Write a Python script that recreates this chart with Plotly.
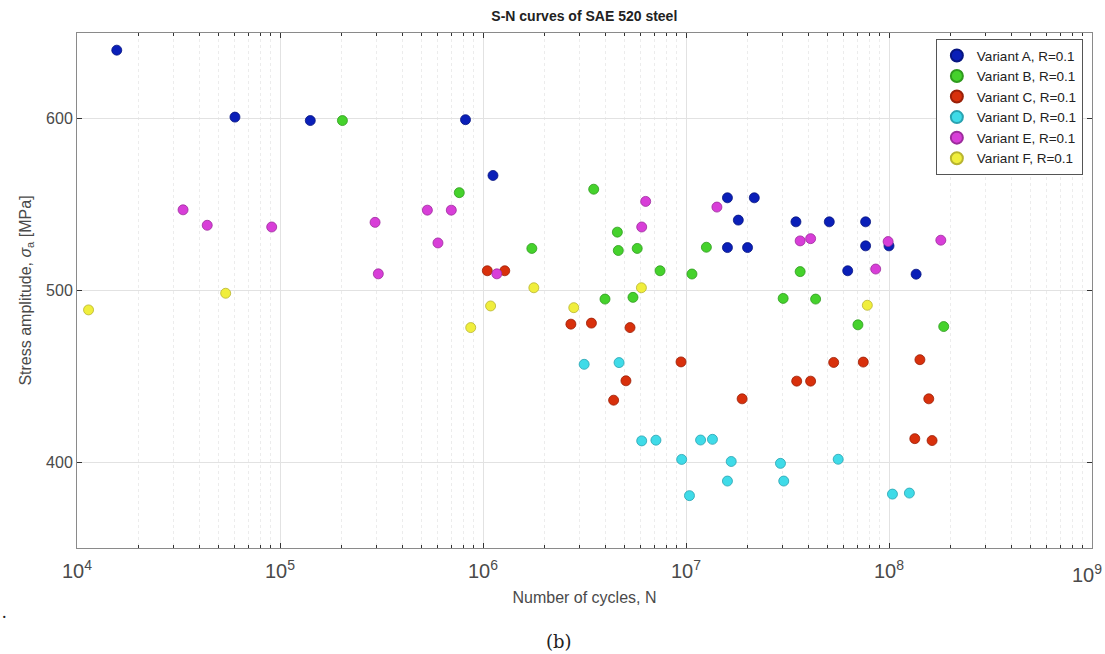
import plotly.graph_objects as go

series_names = ["Variant A, R=0.1", "Variant B, R=0.1", "Variant C, R=0.1",
                "Variant D, R=0.1", "Variant E, R=0.1", "Variant F, R=0.1"]
colors = ["#0a1fb8", "#45d22c", "#d8300c", "#3fdbe8", "#d83ed8", "#f0ee3c"]
edges = ["#071580", "#2f9a1e", "#9a2008", "#2aa2b0", "#9c2c9c", "#b8b430"]

x_tick_vals = [1e4, 1e5, 1e6, 1e7, 1e8, 1e9]
x_tick_text = ["10<sup>4</sup>", "10<sup>5</sup>", "10<sup>6</sup>",
               "10<sup>7</sup>", "10<sup>8</sup>", "10<sup>9</sup>"]
y_tick_vals = [400, 500, 600]

a_n = [1.57e4, 6.0e4, 1.41e5, 8.2e5, 1.12e6, 1.60e7, 2.17e7, 1.81e7, 1.60e7, 2.01e7,
       3.48e7, 5.08e7, 7.67e7, 7.67e7, 1.0e8, 6.26e7, 1.36e8]
a_s = [640, 601, 599, 599.5, 567, 554, 554, 541, 525, 525,
       540, 540, 540, 526, 526, 511.5, 509.5]

b_n = [2.03e5, 7.64e5, 1.74e6, 3.51e6, 4.59e6, 4.64e6, 5.75e6, 7.45e6, 1.07e7, 1.26e7,
       3.99e6, 5.48e6, 3.01e7, 3.65e7, 4.35e7, 7.03e7, 1.86e8]
b_s = [599, 557, 524.5, 559, 534, 523.3, 524.5, 511.5, 509.6, 525.2,
       495, 496, 495.4, 511, 495, 480, 479]

c_n = [1.05e6, 1.28e6, 2.71e6, 3.42e6, 5.30e6, 9.45e6, 5.06e6, 4.40e6, 1.89e7, 3.51e7,
       4.11e7, 5.34e7, 7.47e7, 1.42e8, 1.57e8, 1.34e8, 1.63e8]
c_s = [511.5, 511.5, 480.4, 481, 478.4, 458.4, 447.4, 436.1, 436.9, 447.2,
       447.2, 458.1, 458.3, 459.7, 436.9, 413.7, 412.6]

d_n = [3.15e6, 4.68e6, 6.05e6, 7.11e6, 1.18e7, 1.35e7, 9.52e6, 1.67e7, 1.60e7, 1.04e7,
       2.92e7, 3.03e7, 5.62e7, 1.04e8, 1.26e8]
d_s = [457, 458, 412.4, 412.8, 412.9, 413.3, 401.6, 400.4, 389, 380.5,
       399.3, 389, 401.7, 381.4, 382]

e_n = [3.33e4, 4.38e4, 9.1e4, 2.94e5, 3.05e5, 5.32e5, 6.98e5, 6.0e5, 1.17e6, 6.33e6,
       6.05e6, 1.42e7, 3.65e7, 4.11e7, 8.6e7, 9.9e7, 1.80e8]
e_s = [547, 538, 537, 539.7, 509.7, 546.8, 546.8, 527.7, 509.7, 551.9,
       537, 548.6, 528.9, 530.2, 512.5, 528.5, 529.3]

f_n = [1.14e4, 5.40e4, 8.7e5, 1.09e6, 2.80e6, 1.78e6, 6.03e6, 7.82e7]
f_s = [488.7, 498.4, 478.4, 491, 490, 501.6, 501.6, 491.4]

xs = [a_n, b_n, c_n, d_n, e_n, f_n]
ys = [a_s, b_s, c_s, d_s, e_s, f_s]

fig = go.Figure()
for name, x, y, c, e in zip(series_names, xs, ys, colors, edges):
    fig.add_trace(go.Scatter(
        x=x, y=y, mode="markers", name=name,
        marker=dict(size=10, color=c, line=dict(color=e, width=0.8)),
    ))

y_tick_font = dict(family="Liberation Sans, Arial", size=16, color="#4a4a4a")
x_tick_font = dict(family="Liberation Sans, Arial", size=20, color="#4a4a4a")
axis_common = dict(
    showline=True, linecolor="#8a8a8a", linewidth=1, mirror="ticks",
    ticks="inside", tickcolor="#333333", ticklen=5,
    showgrid=True, gridcolor="#e2e2e2", gridwidth=1,
    zeroline=False, automargin=False,
)

# last x tick label is drawn as an annotation, nudged left so it stays inside the page
fig.update_xaxes(
    type="log", range=[4, 9], tickmode="array",
    tickvals=x_tick_vals, ticktext=x_tick_text[:-1] + [""], tickfont=x_tick_font,
    ticklabelstandoff=5,
    minor=dict(dtick="D1", showgrid=True, gridcolor="#ececec", griddash="dot",
               ticks="inside", ticklen=3, tickcolor="#333333"),
    title=dict(text="Number of cycles, N", standoff=10,
               font=dict(family="Liberation Sans, Arial", size=16, color="#4a4a4a")),
    **axis_common,
)
fig.update_yaxes(
    range=[350, 650], tickmode="array", tickvals=y_tick_vals, tickfont=y_tick_font,
    title=dict(text="Stress amplitude, <i>σ</i><sub>a</sub> [MPa]", standoff=10,
               font=dict(family="Liberation Sans, Arial", size=16, color="#4a4a4a")),
    **axis_common,
)

fig.update_layout(
    width=1105, height=654, autosize=False,
    margin=dict(l=77, r=13, t=33, b=106),
    paper_bgcolor="white", plot_bgcolor="white",
    title=dict(text="<b>S-N curves of SAE 520 steel</b>", x=0.5288, xanchor="center",
               y=0.975, yanchor="middle",
               font=dict(family="Liberation Sans, Arial", size=14, color="#222222")),
    legend=dict(x=0.991, y=0.988, xanchor="right", yanchor="top",
                bgcolor="white", bordercolor="#555555", borderwidth=1,
                font=dict(family="Liberation Sans, Arial", size=13.5, color="#222222"),
                itemsizing="constant", tracegroupgap=0),
    showlegend=True,
)

fig.add_annotation(text=x_tick_text[-1], xref="paper", yref="paper", x=1.0, y=0,
                   xanchor="center", yanchor="top", xshift=-5, yshift=-11,
                   showarrow=False, font=x_tick_font)
fig.add_annotation(text="(b)", xref="paper", yref="paper", x=0.475, y=-0.182,
                   xanchor="center", yanchor="middle", showarrow=False,
                   font=dict(family="DejaVu Serif, Liberation Serif", size=18, color="#222222"))
fig.add_annotation(text=".", xref="paper", yref="paper", x=-0.076, y=-0.125,
                   xanchor="left", yanchor="middle", showarrow=False,
                   font=dict(family="Liberation Serif", size=18, color="#222222"))

fig.write_html("out.html")
